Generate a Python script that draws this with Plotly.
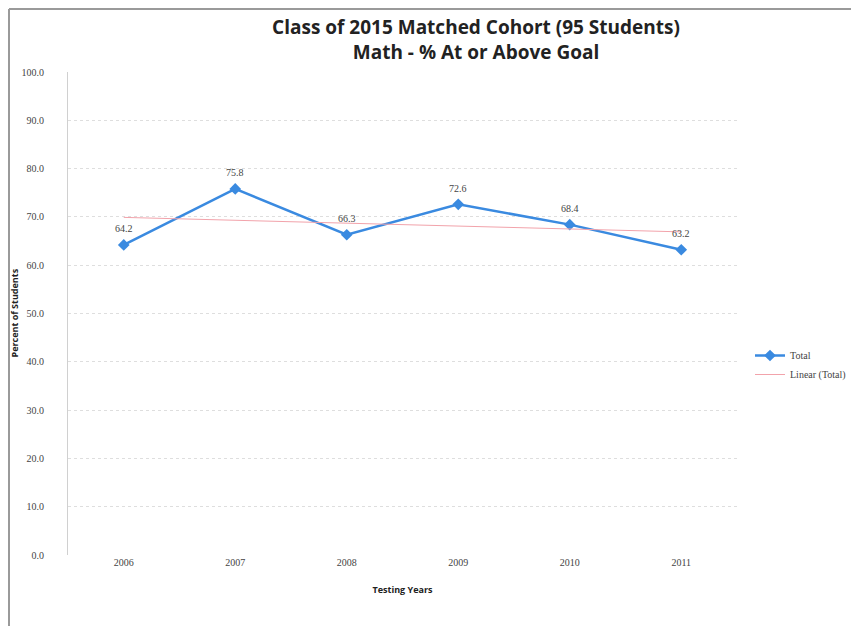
import plotly.graph_objects as go

# data
years = ["2006", "2007", "2008", "2009", "2010", "2011"]
pct_total = [64.2, 75.8, 66.3, 72.6, 68.4, 63.2]

# linear trend line ends (as drawn in the chart)
trend_years = ["2006", "2011"]
trend_values = [69.9, 66.9]

y_ticks = [0, 10, 20, 30, 40, 50, 60, 70, 80, 90, 100]

# the page body adds an 8px offset, so figure coords = screen coords - 8
W, H = 859, 626
ML, MR, MT, MB = 60, 130, 64, 79
PW, PH = W - ML - MR, H - MT - MB


def px_x(p):
    return (p - ML) / PW


def px_y(p):
    return (H - MB - p) / PH


fig = go.Figure()

fig.add_trace(go.Scatter(
    x=years, y=pct_total,
    mode="lines+markers",
    name="Total",
    line=dict(color="#3a8ae0", width=2.5),
    marker=dict(symbol="diamond", size=9, color="#3a8ae0"),
))

fig.add_trace(go.Scatter(
    x=trend_years, y=trend_values,
    mode="lines",
    name="Linear (Total)",
    line=dict(color="#f2a3ab", width=1),
))

# data labels above each point (category index on the x axis)
for i, v in enumerate(pct_total):
    fig.add_annotation(
        x=i, y=v, text=f"{v:.1f}", showarrow=False,
        yshift=16, font=dict(family="Liberation Serif", size=10, color="#444"),
    )

# y axis title
fig.add_annotation(
    x=px_x(6), y=0.5, xref="paper", yref="paper",
    text="<b>Percent of Students</b>", textangle=-90, showarrow=False,
    xanchor="center", yanchor="middle",
    font=dict(family="Open Sans", size=9, color="#222"),
)

# chart frame (left and top edges)
fig.add_shape(type="line", xref="paper", yref="paper",
              x0=px_x(1), x1=px_x(1), y0=px_y(H), y1=px_y(1),
              line=dict(color="#9a9a9a", width=2))
fig.add_shape(type="line", xref="paper", yref="paper",
              x0=px_x(1), x1=px_x(W), y0=px_y(1), y1=px_y(1),
              line=dict(color="#9a9a9a", width=2))

fig.update_layout(
    width=W, height=H,
    margin=dict(l=ML, r=MR, t=MT, b=MB, autoexpand=False),
    paper_bgcolor="white",
    plot_bgcolor="white",
    font=dict(family="Liberation Serif", size=10, color="#444"),
    title=dict(
        text="<b>Class of 2015 Matched Cohort (95 Students)<br>Math - % At or Above Goal</b>",
        font=dict(family="Open Sans", size=19, color="#222"),
        x=468 / W, xanchor="center", xref="container",
        y=1 - 26 / H, yanchor="top", yref="container",
    ),
    showlegend=True,
    legend=dict(
        x=px_x(742), y=px_y(333), xanchor="left", yanchor="top",
        font=dict(family="Liberation Serif", size=10, color="#444"),
        bgcolor="rgba(0,0,0,0)",
        itemwidth=30, tracegroupgap=4,
    ),
)

fig.update_xaxes(
    type="category",
    range=[-0.5, 5.5],
    automargin=False,
    showgrid=False,
    showline=False,
    ticks="",
    tickfont=dict(family="Liberation Serif", size=10, color="#444"),
    title=dict(text="<b>Testing Years</b>",
               font=dict(family="Open Sans", size=9, color="#222"), standoff=19),
)

fig.update_yaxes(
    range=[0, 100],
    automargin=False,
    tickvals=y_ticks,
    ticktext=[f"{v:.1f}" for v in y_ticks],
    showgrid=True,
    gridcolor="#dedede",
    griddash="dot",
    zeroline=False,
    showline=True,
    linecolor="#d0d0d0",
    linewidth=1,
    ticks="",
    ticklabelstandoff=21,
    tickfont=dict(family="Liberation Serif", size=10, color="#444"),
)

fig.write_html("out.html")
